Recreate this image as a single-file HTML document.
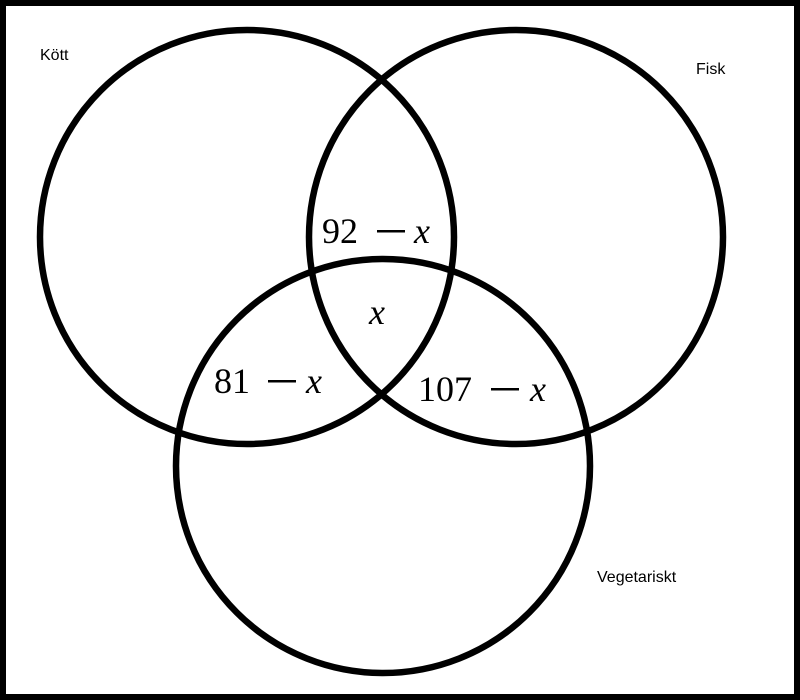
<!DOCTYPE html>
<html><head><style>
html,body{margin:0;padding:0;background:#fff}
svg{display:block}
</style></head><body>
<svg width="800" height="700" viewBox="0 0 800 700" xmlns="http://www.w3.org/2000/svg">
<rect x="0" y="0" width="800" height="700" fill="#000"/>
<rect x="6" y="6" width="788" height="688" fill="#fff"/>
<g fill="none" stroke="#000" stroke-width="6.5">
<circle cx="247" cy="237" r="207"/>
<circle cx="516" cy="237" r="207"/>
<circle cx="383" cy="466" r="207"/>
</g>
<g font-family="Liberation Sans, sans-serif" font-size="16" fill="#000">
<text x="40" y="60">Kött</text>
<text x="696" y="74">Fisk</text>
<text x="597" y="582">Vegetariskt</text>
</g>
<g font-family="Liberation Serif, serif" font-size="36" fill="#000">
<text x="322" y="243">92</text>
<rect x="377" y="230" width="28" height="2.5"/>
<text x="414" y="243" font-style="italic">x</text>
<text x="369" y="324" font-style="italic">x</text>
<text x="214" y="393">81</text>
<rect x="268" y="380" width="28" height="2.5"/>
<text x="306" y="393" font-style="italic">x</text>
<text x="418" y="401">107</text>
<rect x="491" y="388" width="28" height="2.5"/>
<text x="530" y="401" font-style="italic">x</text>
</g>
</svg>
</body></html>
